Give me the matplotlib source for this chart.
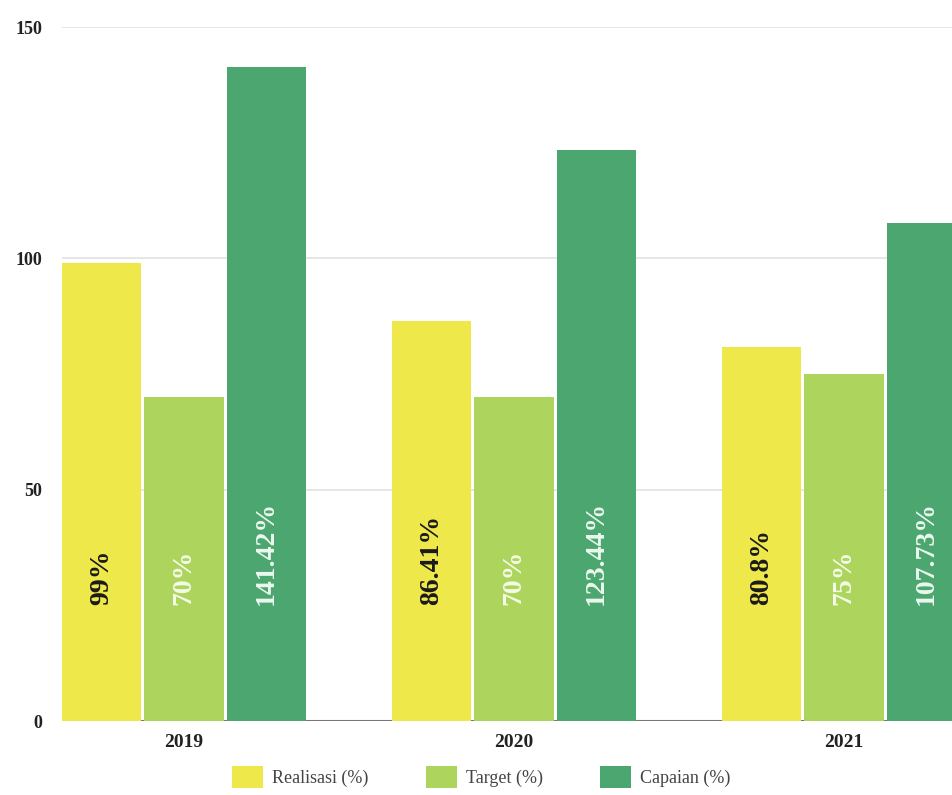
import matplotlib
matplotlib.use("Agg")
import matplotlib.pyplot as plt
import numpy as np

years = ["2019", "2020", "2021"]
realisasi = [99, 86.41, 80.8]
target = [70, 70, 75]
capaian = [141.42, 123.44, 107.73]
labels_realisasi = ["99%", "86.41%", "80.8%"]
labels_target = ["70%", "70%", "75%"]
labels_capaian = ["141.42%", "123.44%", "107.73%"]
series_names = ["Realisasi (%)", "Target (%)", "Capaian (%)"]
yticks = [0, 50, 100, 150]

colors = ["#EEE84B", "#ADD55E", "#4CA66F"]
text_colors = ["#1a1a1a", "#f4fbe8", "#eaf7ee"]
font = ["Liberation Serif", "DejaVu Serif"]

fig = plt.figure(figsize=(9.53, 7.95), dpi=100)
ax = fig.add_axes([0.065, 0.093, 0.935, 0.873])

x = np.arange(len(years))
width = 0.24
offsets = [-0.25, 0, 0.25]
series = [realisasi, target, capaian]
labels = [labels_realisasi, labels_target, labels_capaian]

handles = []
for vals, labs, off, c, tc, name in zip(series, labels, offsets, colors, text_colors, series_names):
	bars = ax.bar(x + off, vals, width, color=c, label=name, zorder=3)
	handles.append(bars)
	for xi, lab in zip(x + off, labs):
		ax.text(xi, 25, lab, rotation=90, rotation_mode="anchor", ha="left", va="center",
			fontsize=20, fontweight="bold", color=tc, family=font, zorder=4)

ax.set_xlim(-0.37, 2.33)
ax.set_ylim(0, 150)
ax.set_yticks(yticks)
ax.set_yticklabels([str(t) for t in yticks], fontsize=13, fontweight="bold", family=font, color="#222222")
ax.set_xticks(x)
ax.set_xticklabels(years, fontsize=14, fontweight="bold", family=font, color="#222222")
ax.tick_params(axis="both", length=0)
ax.tick_params(axis="y", pad=14)
ax.tick_params(axis="x", pad=9)

ax.grid(axis="y", color="#e2e2e2", linewidth=1.2, zorder=0)
ax.axhline(0, color="#777777", linewidth=1.5, zorder=2)
for s in ax.spines.values():
	s.set_visible(False)

leg = fig.legend(handles=handles, labels=series_names, loc="lower center", bbox_to_anchor=(0.505, -0.012),
	ncol=3, frameon=False, handlelength=1.7, handleheight=1.5, handletextpad=0.5, columnspacing=3.2,
	prop={"family": font, "size": 13})
for t in leg.get_texts():
	t.set_color("#444444")

fig.savefig("out.png", dpi=100, facecolor="white")
